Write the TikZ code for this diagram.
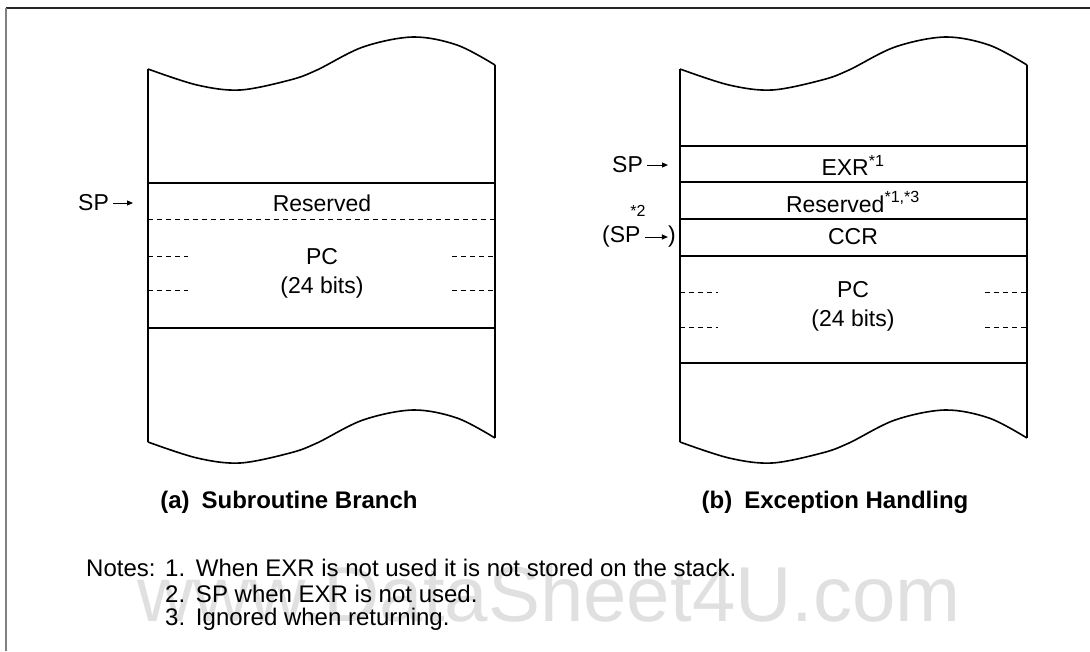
\documentclass[tikz,border=0pt]{standalone}
\usepackage{fontspec}
\setmainfont{Liberation Sans}
\usetikzlibrary{arrows.meta}
\def\wave(#1,#2){\draw[edge,shift={(#1,#2)}] plot[smooth,tension=0.55] coordinates {(0,0) (49,16) (92,21) (142,11) (169,1) (215,-22) (265,-32) (309,-24) (347,-4)};}

\begin{document}
\begin{tikzpicture}[x=1pt,y=-1pt,
  edge/.style={line width=1.6pt},
  cell/.style={line width=1.4pt},
  split/.style={line width=0.8pt,dash pattern=on 5pt off 4pt},
  txt/.style={font=\fontsize{23}{27}\selectfont,inner sep=0pt},
  note/.style={font=\fontsize{24}{28}\selectfont,inner sep=0pt,anchor=west},
  figcap/.style={font=\fontsize{24}{28}\selectfont\bfseries,inner sep=0pt},
  small/.style={font=\fontsize{16}{19}\selectfont,inner sep=0pt},
  ptr/.style={line width=1pt,-{Triangle[length=6pt,width=5pt]},shorten <=4pt}]
\useasboundingbox (0,0) rectangle (1090,651);

% frame
\draw[line width=1.5pt,black!85] (6,8) -- (1090,8);
\draw[line width=1.5pt,black!50] (6,8) -- (6,651);

% watermark
\node[font=\fontsize{78}{82}\selectfont,text=black!12,inner sep=0pt] (mark) at (549,594) {www.DataSheet4U.com};

% (a) stack
\wave(148,69)
\wave(148,442)
\draw[edge] (148,69) -- (148,442);
\draw[edge] (495,65) -- (495,438);
\draw[cell] (148,183) -- (495,183);
\draw[split] (148,219) -- (495,219);
\draw[cell] (148,328) -- (495,328);
\foreach \y in {256,290} {
  \draw[split] (148,\y) -- (188,\y);
  \draw[split] (452,\y) -- (495,\y);
}
\node[txt] (resa) at (322,203) {Reserved};
\node[txt] (pca) at (322,257) {PC};
\node[txt] (bitsa) at (322,288) {(24 bits)};
\node[txt,anchor=west] (spa) at (78,203) {SP};
\coordinate (spaend) at (133,203);
\draw[ptr] (spa) -- (spaend);

% (b) stack
\wave(680,69)
\wave(680,442)
\draw[edge] (680,69) -- (680,442);
\draw[edge] (1027,65) -- (1027,438);
\foreach \y in {146,182,219,256,363}
  \draw[cell] (680,\y) -- (1027,\y);
\foreach \y in {292,327} {
  \draw[split] (680,\y) -- (718,\y);
  \draw[split] (985,\y) -- (1027,\y);
}
\node[txt] (exr) at (853,165) {EXR\textsuperscript{*1}};
\node[txt] (resb) at (853,202) {Reserved\textsuperscript{*1,*3}};
\node[txt] (ccr) at (853,237) {CCR};
\node[txt] (pcb) at (853,290) {PC};
\node[txt] (bitsb) at (853,321) {(24 bits)};
\node[txt,anchor=west] (spb) at (612,165) {SP};
\coordinate (spbend) at (668,165);
\draw[ptr] (spb) -- (spbend);
\node[small] (startwo) at (638,211) {*2};
\node[txt,anchor=west] (spc) at (602,237) {(SP};
\node[txt,anchor=east] (close) at (676,237) {)};
\draw[ptr] (spc) -- (close);

% captions
\node[figcap] (capa) at (289,502) {(a)\hspace{0.5em}Subroutine Branch};
\node[figcap] (capb) at (835,502) {(b)\hspace{0.5em}Exception Handling};

% notes
\node[note] (notes) at (86,568) {Notes:};
\node[note] (noteone) at (165,568) {1.\hspace{0.45em}When EXR is not used it is not stored on the stack.};
\node[note] (notetwo) at (165,594) {2.\hspace{0.45em}SP when EXR is not used.};
\node[note] (notethree) at (165,619) {3.\hspace{0.45em}Ignored when returning.};
\end{tikzpicture}
\end{document}
